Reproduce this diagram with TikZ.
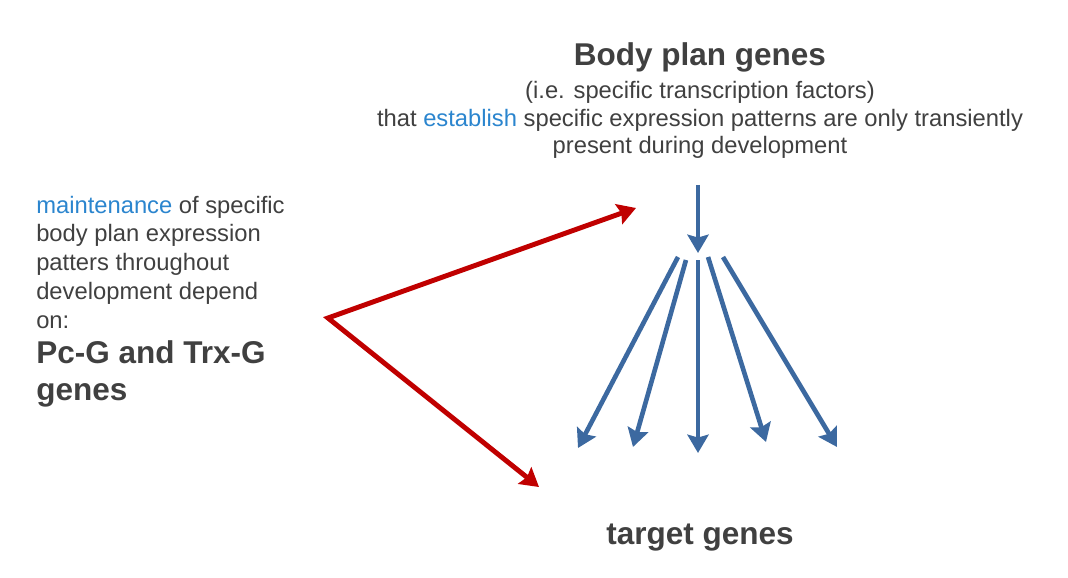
\documentclass[tikz,border=0pt]{standalone}
\usepackage{fontspec}
\setmainfont{Liberation Sans}
\usetikzlibrary{arrows.meta}
\definecolor{textgray}{HTML}{404040}
\definecolor{wordblue}{HTML}{2B85CE}
\definecolor{arrowred}{HTML}{C00000}
\definecolor{arrowblue}{HTML}{3C69A0}
\begin{document}
\begin{tikzpicture}[x=0.025cm, y=-0.025cm,
        every node/.style={text=textgray, inner sep=0pt},
        plaintext/.style={font=\fontsize{16.9}{19.8}\selectfont},
        listtext/.style={font=\fontsize{16.9}{20.4}\selectfont},
        boldtext/.style={font=\fontsize{22.4}{26.3}\selectfont\bfseries},
        redarrow/.style={draw=arrowred, line width=3.5pt, line join=miter, {Stealth[length=13pt, width=15pt, inset=2pt]}-{Stealth[length=13pt, width=15pt, inset=2pt]}},
        bluearrow/.style={draw=arrowblue, line width=3.3pt, -{Stealth[length=13pt, width=15pt, inset=2pt]}}]
        \useasboundingbox (0,0) rectangle (1068,578);
        % texts (multi-line nodes sit on the baseline of their last line)
        \node (body) at (700,66) [boldtext, anchor=base] {Body plan genes};
        \node (factors) at (700,154) [plaintext, anchor=base, align=center] {(i.e. specific transcription factors)\\that \textcolor{wordblue}{establish} specific expression patterns are only transiently\\present during development};
        \node (maint) at (36,328) [listtext, anchor=base west, align=left] {\textcolor{wordblue}{maintenance} of specific\\body plan expression\\patters throughout\\development depend\\on:};
        \node (pcg) at (36,400) [boldtext, anchor=base west, align=left] {Pc-G and Trx-G\\genes};
        \node (target) at (700,544) [boldtext, anchor=base] {target genes};
        % arrow ends
        \coordinate (fork) at (328,318);
        \coordinate (uptip) at (636,208);
        \coordinate (lowtip) at (539,487);
        \coordinate (stem) at (698,185);
        \coordinate (hub) at (698,253);
        \coordinate (s1) at (678,257);
        \coordinate (s2) at (686,260);
        \coordinate (s3) at (698,260);
        \coordinate (s4) at (708,257);
        \coordinate (s5) at (723,257);
        \coordinate (t1) at (578,448);
        \coordinate (t2) at (633,447);
        \coordinate (t3) at (698,453);
        \coordinate (t4) at (766,442);
        \coordinate (t5) at (837,447);
        % arrows
        \draw[redarrow] (uptip) -- (fork) -- (lowtip);
        \draw[bluearrow] (stem) -- (hub);
        \draw[bluearrow] (s1) -- (t1);
        \draw[bluearrow] (s2) -- (t2);
        \draw[bluearrow] (s3) -- (t3);
        \draw[bluearrow] (s4) -- (t4);
        \draw[bluearrow] (s5) -- (t5);
    \end{tikzpicture}
\end{document}
